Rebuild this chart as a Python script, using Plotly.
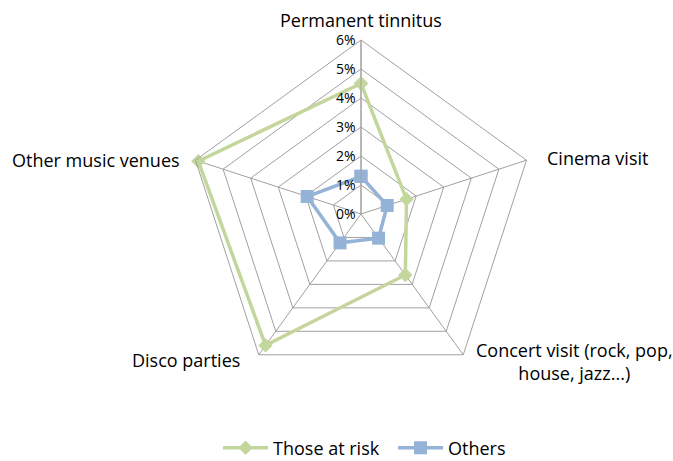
import plotly.graph_objects as go

categories = ["Permanent tinnitus", "Cinema visit", "Concert visit (rock, pop,<br>house, jazz...)", "Disco parties", "Other music venues"]
at_risk = [4.5, 1.65, 2.6, 5.6, 5.9]
others = [1.3, 0.95, 1.03, 1.23, 1.95]
tick_vals = [0, 1, 2, 3, 4, 5, 6]
tick_text = ["0%", "1%", "2%", "3%", "4%", "5%", "6%"]

GREEN = "#C3D69B"
BLUE = "#95B3D7"
FONT = "Open Sans, Liberation Sans, sans-serif"

fig = go.Figure()
fig.add_trace(go.Scatterpolar(
    r=at_risk + at_risk[:1], theta=categories + categories[:1],
    mode="lines+markers", name="Those at risk",
    line=dict(color=GREEN, width=3.5),
    marker=dict(symbol="diamond", size=11, color=GREEN),
))
fig.add_trace(go.Scatterpolar(
    r=others + others[:1], theta=categories + categories[:1],
    mode="lines+markers", name="Others",
    line=dict(color=BLUE, width=3.5),
    marker=dict(symbol="square", size=13, color=BLUE),
))

cx, cy, R = 361, 214, 174
W, H = 673, 461

# category label placement (pixel anchors around the chart)
label_pos = [
    dict(x=361, y=20, xanchor="center", align="center"),
    dict(x=545, y=158, xanchor="left", align="left"),
    dict(x=574, y=361, xanchor="center", align="center"),
    dict(x=242, y=360, xanchor="right", align="right"),
    dict(x=182, y=160, xanchor="right", align="right"),
]
annotations = []
for cat, p in zip(categories, label_pos):
    annotations.append(dict(
        text=cat, xref="paper", yref="paper",
        x=p["x"] / W, y=1 - p["y"] / H, xanchor=p["xanchor"], yanchor="middle",
        align=p["align"], showarrow=False,
        font=dict(size=18, family=FONT, color="black"),
    ))

fig.update_layout(
    width=W, height=H,
    margin=dict(l=0, r=0, t=0, b=0, autoexpand=False),
    paper_bgcolor="white",
    font=dict(family=FONT, size=18, color="black"),
    annotations=annotations,
    polar=dict(
        domain=dict(x=[(cx - R) / W, (cx + R) / W], y=[(H - cy - R) / H, (H - cy + R) / H]),
        bgcolor="white",
        gridshape="linear",
        radialaxis=dict(
            range=[0, 6], tickvals=tick_vals, ticktext=tick_text,
            angle=90, tickangle=90, side="counterclockwise",
            showline=True, linecolor="#A0A0A0", linewidth=1,
            gridcolor="#A0A0A0", gridwidth=1, ticks="",
            tickfont=dict(size=14, family=FONT, color="black"),
        ),
        angularaxis=dict(
            rotation=90, direction="clockwise", showticklabels=False,
            linecolor="#A0A0A0", linewidth=1,
            gridcolor="#A0A0A0", gridwidth=1, ticks="",
        ),
    ),
    showlegend=True,
    legend=dict(orientation="h", x=0.584, xanchor="center", y=-0.012, yanchor="bottom",
                itemwidth=45, entrywidth=115, entrywidthmode="pixels",
                font=dict(size=18, family=FONT, color="black")),
)

fig.write_html("out.html")
